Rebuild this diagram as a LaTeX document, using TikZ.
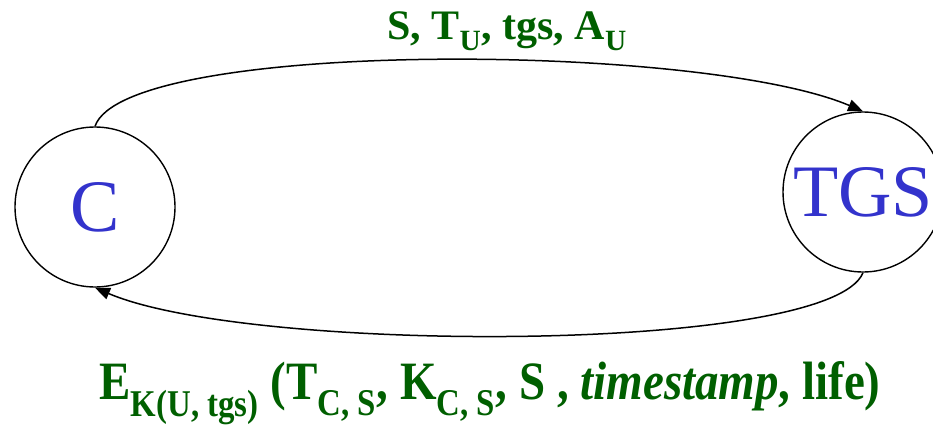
\documentclass[tikz,border=0pt]{standalone}
\usepackage{fontspec}
\setmainfont{Liberation Serif}
\usetikzlibrary{arrows.meta}
\definecolor{nodeblue}{RGB}{51,51,204}
\definecolor{msggreen}{RGB}{0,95,0}

\begin{document}
\begin{tikzpicture}[
x=1pt, y=1pt,
party/.style={draw, circle, line width=1.4pt, minimum size=160pt, inner sep=0pt, text=nodeblue, font=\fontsize{74}{74}\selectfont},
msg/.style={text=msggreen, inner sep=0pt, anchor=base},
arrow/.style={-{Triangle[length=15pt,width=12pt]}, line width=1.5pt}
]
\useasboundingbox (0,0) rectangle (933,424);
\node[party] (c) at (95,217) {C};
\node[party] (tgs) at (863,232) {TGS};

\node[msg, font=\bfseries\fontsize{42}{42}\selectfont] (req) at (507,384) {S, T\textsubscript{U}, tgs, A\textsubscript{U}};
\node[msg, xscale=0.87, transform shape, font=\bfseries\fontsize{54}{54}\selectfont] (rep) at (490,25) {E\textsubscript{K(U, tgs)} (T\textsubscript{C, S}, K\textsubscript{C, S}, S , \textit{timestamp}, life)};

\draw[arrow] (c.north) .. controls (125,385) and (700,382) .. (tgs.north);
\draw[arrow] (tgs.south) .. controls (830,70) and (250,70) .. (c.south);
\end{tikzpicture}
\end{document}
